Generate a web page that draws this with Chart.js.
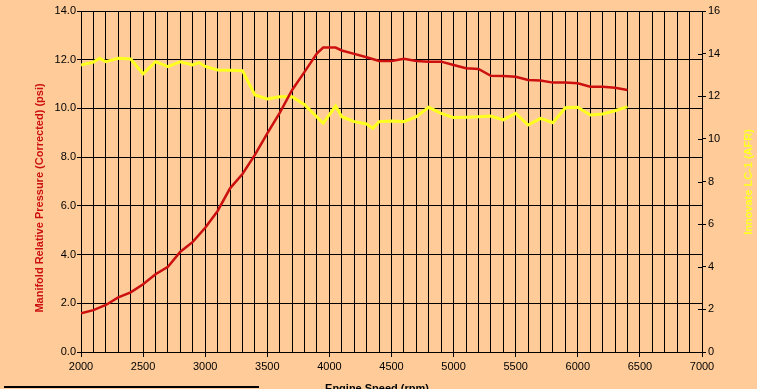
<!DOCTYPE html>
<html>
<head>
<meta charset="utf-8">
<script src="https://cdn.jsdelivr.net/npm/chart.js@4.4.1/dist/chart.umd.min.js"></script>
<style>
  html, body { margin: 0; padding: 0; background: #ffcc99; overflow: hidden; }
  #wrap { position: relative; width: 757px; height: 400px; }
  #legendEdge { position: absolute; left: 4px; top: 386px; width: 255px; height: 0; border-top: 2px solid #000; }
</style>
</head>
<body>
<div id="wrap"><canvas id="chart" width="757" height="400" style="width:757px;height:400px"></canvas></div>
<div id="legendEdge"></div>
<script>
// ----- Data -----
const mapRpm = [2000, 2100, 2200, 2300, 2400, 2500, 2600, 2700, 2800, 2900,
                3000, 3100, 3200, 3300, 3400, 3500, 3600, 3700, 3800, 3900,
                3950, 4050, 4100, 4200, 4300, 4400, 4500, 4600, 4700, 4800,
                4900, 5000, 5100, 5200, 5300, 5400, 5500, 5600, 5700, 5800,
                5900, 6000, 6100, 6200, 6300, 6400];
const mapPsi = [1.59, 1.72, 1.93, 2.24, 2.45, 2.78, 3.19, 3.50, 4.12, 4.52,
                5.10, 5.79, 6.72, 7.31, 8.09, 8.98, 9.82, 10.76, 11.50, 12.26,
                12.50, 12.50, 12.38, 12.24, 12.10, 11.95, 11.95, 12.04, 11.95, 11.92,
                11.92, 11.78, 11.65, 11.62, 11.34, 11.33, 11.30, 11.17, 11.15, 11.06,
                11.06, 11.03, 10.89, 10.89, 10.85, 10.76];

const afrRpm = [2000, 2100, 2150, 2200, 2300, 2400, 2500, 2600, 2700, 2800,
                2900, 2950, 3000, 3100, 3200, 3300, 3400, 3500, 3600, 3700,
                3800, 3950, 4050, 4100, 4200, 4300, 4350, 4400, 4500, 4600,
                4700, 4800, 4900, 5000, 5100, 5200, 5300, 5400, 5500, 5600,
                5700, 5800, 5900, 6000, 6100, 6200, 6300, 6400];
const afrVal = [13.47, 13.60, 13.78, 13.62, 13.78, 13.75, 13.05, 13.62, 13.39, 13.62,
                13.47, 13.58, 13.40, 13.23, 13.22, 13.20, 12.06, 11.87, 11.98, 11.98,
                11.60, 10.73, 11.54, 11.04, 10.81, 10.70, 10.50, 10.81, 10.84, 10.81,
                11.04, 11.48, 11.20, 11.00, 11.02, 11.04, 11.07, 10.89, 11.20, 10.65,
                10.96, 10.76, 11.46, 11.48, 11.12, 11.17, 11.32, 11.51];

const xTitle = 'Engine Speed (rpm)';
const yTitle = 'Manifold Relative Pressure (Corrected) (psi)';
const y2Title = 'Innovate LC-1 (AFR)';

const FONT = '"Liberation Sans", Arial, sans-serif';
const RED = '#cc1010';
const YELLOW = '#ffff20';

// axis titles + inner tick marks on the right axis
const extras = {
  id: 'extras',
  afterDraw(chart) {
    const c = chart.ctx, a = chart.chartArea, y2 = chart.scales.y2;
    c.save();
    c.strokeStyle = '#000'; c.lineWidth = 1;
    y2.ticks.forEach(t => {
      const py = Math.round(y2.getPixelForValue(t.value)) + 0.5;
      c.beginPath(); c.moveTo(a.right - 4, py); c.lineTo(a.right, py); c.stroke();
    });
    c.textAlign = 'center'; c.textBaseline = 'middle';
    c.font = 'bold 11px ' + FONT;
    c.fillStyle = RED;
    c.save(); c.translate(40, 198); c.rotate(-Math.PI / 2); c.fillText(yTitle, 0, 0); c.restore();
    c.fillStyle = YELLOW;
    c.save(); c.translate(749, 182); c.rotate(-Math.PI / 2); c.fillText(y2Title, 0, 0); c.restore();
    c.fillStyle = '#000';
    c.fillText(xTitle, 377, 389);
    c.restore();
  }
};

new Chart(document.getElementById('chart'), {
  type: 'line',
  data: {
    datasets: [{
      label: 'MAP',
      data: mapRpm.map((r, i) => ({ x: r, y: mapPsi[i] })),
      yAxisID: 'y',
      borderColor: RED,
      borderWidth: 2.5,
      pointRadius: 0,
      tension: 0
    }, {
      label: 'AFR',
      data: afrRpm.map((r, i) => ({ x: r, y: afrVal[i] })),
      yAxisID: 'y2',
      borderColor: YELLOW,
      borderWidth: 3,
      pointRadius: 0,
      tension: 0
    }]
  },
  options: {
    responsive: false,
    animation: false,
    layout: { padding: { top: 11, left: 0, right: 0, bottom: 0 } },
    plugins: { legend: { display: false }, tooltip: { enabled: false } },
    scales: {
      x: {
        type: 'linear', min: 2000, max: 7000,
        afterFit: s => { s.height = 48; },
        ticks: {
          stepSize: 100, autoSkip: false, maxRotation: 0, padding: 3,
          color: '#000', font: { family: FONT, size: 11 },
          callback: v => (v % 500 === 0 ? String(v) : '')
        },
        grid: {
          color: '#000', lineWidth: 1, tickLength: 5,
          tickColor: ctx => (ctx.tick && ctx.tick.value % 500 === 0 ? '#000' : 'rgba(0,0,0,0)')
        },
        border: { color: '#000', width: 1 }
      },
      y: {
        position: 'left', min: 0, max: 14,
        afterFit: s => { s.width = 81; },
        ticks: {
          stepSize: 2, padding: 1, color: '#000', font: { family: FONT, size: 11 },
          callback: v => v.toFixed(1)
        },
        grid: { color: '#000', lineWidth: 1, tickLength: 4 },
        border: { color: '#000', width: 1 }
      },
      y2: {
        position: 'right', min: 0, max: 16,
        afterFit: s => { s.width = 55; },
        ticks: {
          stepSize: 2, padding: 2, color: '#000', font: { family: FONT, size: 11 }
        },
        grid: { drawOnChartArea: false, color: '#000', lineWidth: 1, tickLength: 4 },
        border: { color: '#000', width: 1 }
      }
    }
  },
  plugins: [extras]
});
</script>
</body>
</html>
